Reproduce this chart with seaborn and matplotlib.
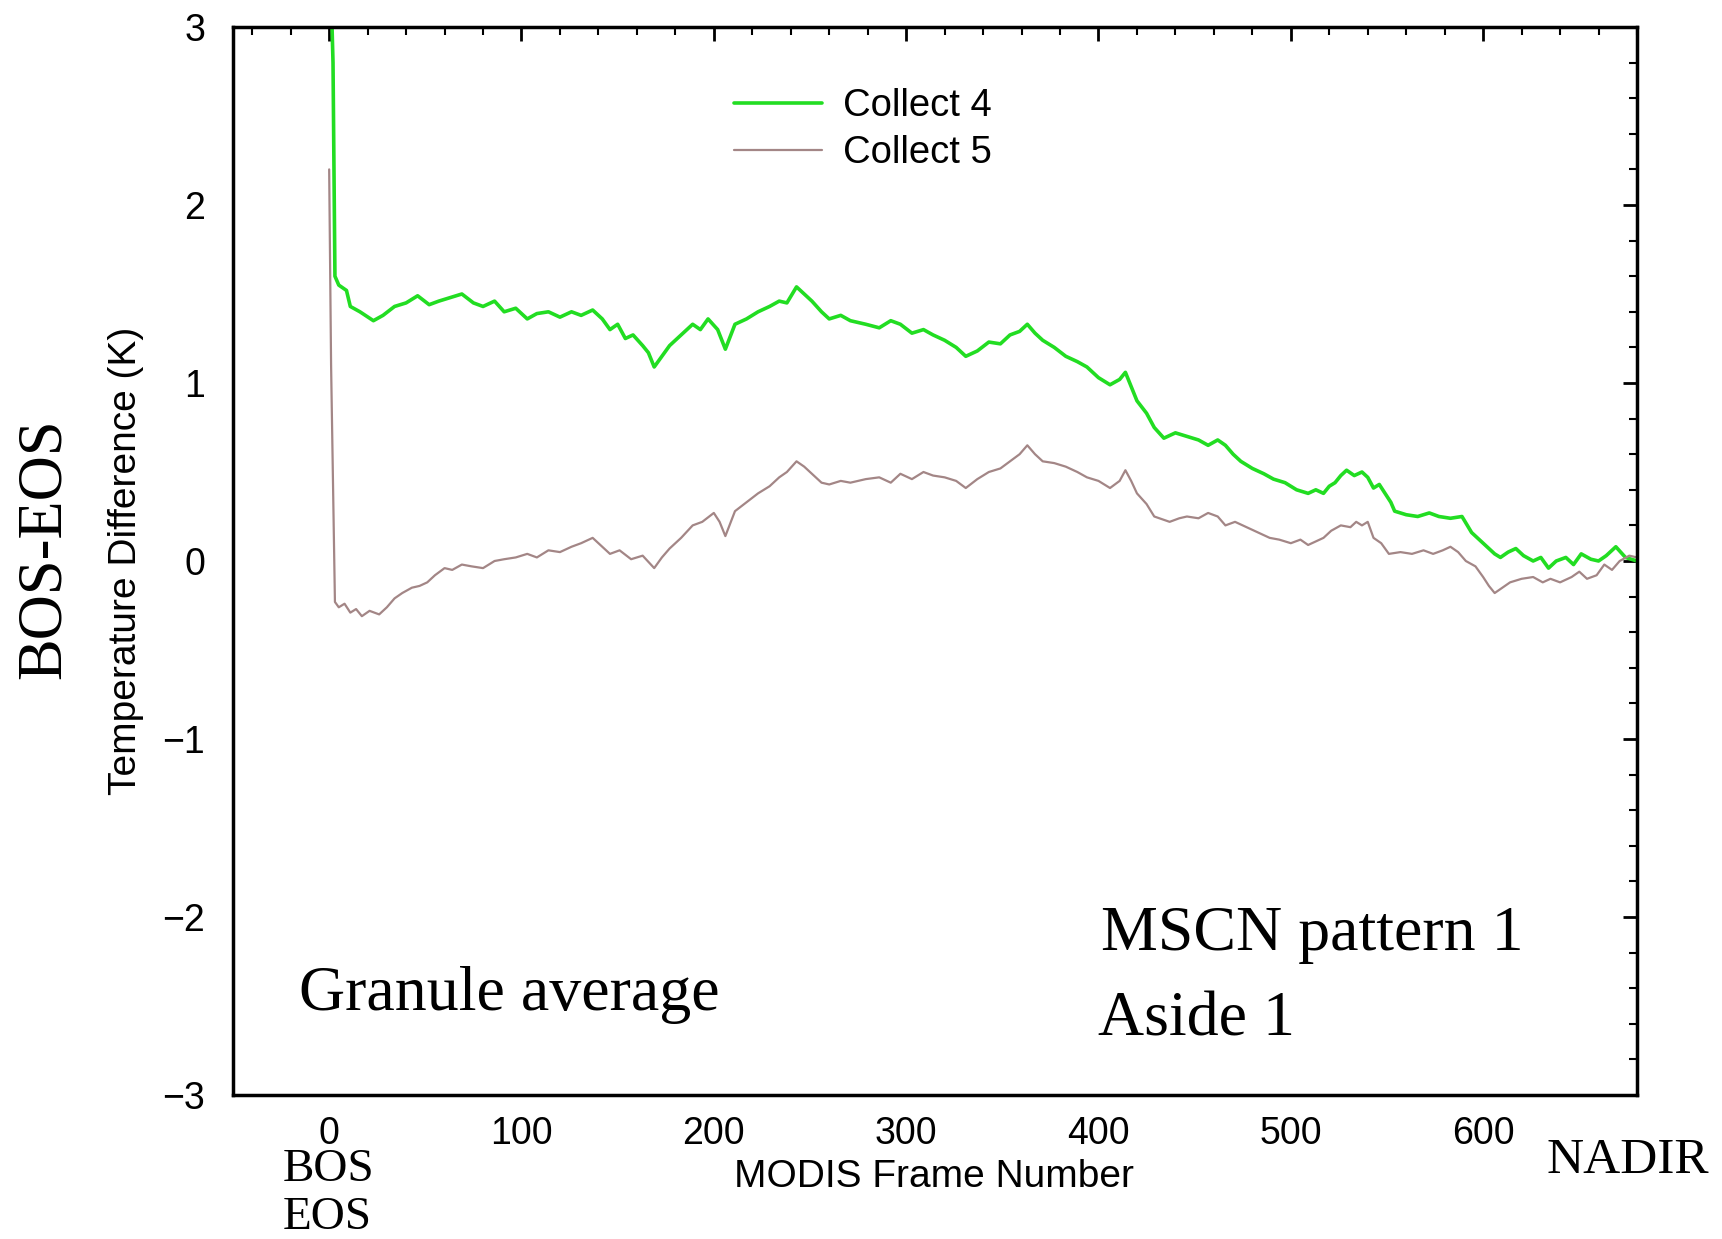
import numpy as np
import pandas as pd
import matplotlib
matplotlib.use("Agg")
import matplotlib.pyplot as plt
import seaborn as sns
from matplotlib.ticker import MultipleLocator

# ---------------- data ----------------
frames_c4 = [0, 2, 3, 5, 9, 11, 16, 23, 28, 34, 40, 46, 52, 57, 63, 69, 75, 80, 86, 91,
             97, 103, 108, 114, 120, 126, 131, 137, 142, 146, 150, 154, 158, 163, 166, 169,
             173, 177, 183, 189, 193, 197, 202, 206, 211, 217, 223, 229, 234, 238, 243,
             247, 251, 256, 260, 266, 271, 279, 286, 292, 297, 303, 309, 314, 320, 326,
             331, 337, 343, 349, 354, 359, 363, 367, 371, 377, 383, 389, 394, 400, 406,
             411, 414, 417, 420, 425, 429, 434, 440, 446, 452, 457, 462, 466, 470, 474,
             480, 486, 491, 497, 503, 509, 513, 517, 520, 523, 526, 529, 533, 537, 540,
             543, 546, 549, 552, 554, 560, 566, 572, 577, 583, 589, 594, 598, 603, 606,
             609, 613, 617, 621, 626, 630, 634, 638, 643, 647, 651, 656, 660, 664, 669,
             674, 680]
collect4 = [3.60, 2.80, 1.60, 1.55, 1.52, 1.43, 1.40, 1.35, 1.38, 1.43, 1.45, 1.49, 1.44,
            1.46, 1.48, 1.50, 1.45, 1.43, 1.46, 1.40, 1.42, 1.36, 1.39, 1.40, 1.37, 1.40,
            1.38, 1.41, 1.36, 1.30, 1.33, 1.25, 1.27, 1.21, 1.17, 1.09, 1.15, 1.21, 1.27,
            1.33, 1.30, 1.36, 1.30, 1.19, 1.33, 1.36, 1.40, 1.43, 1.46, 1.45, 1.54, 1.50,
            1.46, 1.40, 1.36, 1.38, 1.35, 1.33, 1.31, 1.35, 1.33, 1.28, 1.30, 1.27, 1.24,
            1.20, 1.15, 1.18, 1.23, 1.22, 1.27, 1.29, 1.33, 1.28, 1.24, 1.20, 1.15, 1.12,
            1.09, 1.03, 0.99, 1.02, 1.06, 0.98, 0.90, 0.83, 0.75, 0.69, 0.72, 0.70, 0.68,
            0.65, 0.68, 0.65, 0.60, 0.56, 0.52, 0.49, 0.46, 0.44, 0.40, 0.38, 0.40, 0.38,
            0.42, 0.44, 0.48, 0.51, 0.48, 0.50, 0.47, 0.41, 0.43, 0.38, 0.33, 0.28, 0.26,
            0.25, 0.27, 0.25, 0.24, 0.25, 0.16, 0.12, 0.07, 0.04, 0.02, 0.05, 0.07, 0.03,
            0.00, 0.02, -0.04, 0.00, 0.02, -0.02, 0.04, 0.01, 0.00, 0.03, 0.08, 0.02, 0.00]

frames_c5 = [0, 1, 3, 5, 8, 11, 14, 17, 21, 26, 30, 34, 38, 43, 47, 51, 55, 60, 64, 69, 74,
             80, 86, 91, 97, 103, 108, 114, 120, 126, 131, 137, 142, 146, 151, 157, 163,
             169, 173, 177, 183, 189, 194, 200, 203, 206, 211, 217, 223, 229, 234, 238,
             243, 247, 251, 256, 260, 266, 271, 279, 286, 292, 297, 303, 309, 314, 320,
             326, 331, 337, 343, 349, 354, 359, 363, 367, 371, 377, 383, 389, 394, 400,
             406, 411, 414, 417, 420, 425, 429, 437, 442, 446, 452, 457, 462, 466, 471,
             477, 483, 489, 494, 500, 505, 509, 513, 517, 521, 526, 531, 534, 537, 540,
             543, 547, 551, 557, 563, 569, 574, 579, 583, 587, 591, 596, 600, 603, 606,
             610, 614, 620, 626, 631, 635, 640, 646, 650, 654, 659, 663, 667, 671, 676, 680]
collect5 = [2.20, 1.10, -0.23, -0.26, -0.24, -0.29, -0.27, -0.31, -0.28, -0.30, -0.26,
            -0.21, -0.18, -0.15, -0.14, -0.12, -0.08, -0.04, -0.05, -0.02, -0.03, -0.04,
            0.00, 0.01, 0.02, 0.04, 0.02, 0.06, 0.05, 0.08, 0.10, 0.13, 0.08, 0.04, 0.06,
            0.01, 0.03, -0.04, 0.02, 0.07, 0.13, 0.20, 0.22, 0.27, 0.22, 0.14, 0.28, 0.33,
            0.38, 0.42, 0.47, 0.50, 0.56, 0.53, 0.49, 0.44, 0.43, 0.45, 0.44, 0.46, 0.47,
            0.44, 0.49, 0.46, 0.50, 0.48, 0.47, 0.45, 0.41, 0.46, 0.50, 0.52, 0.56, 0.60,
            0.65, 0.60, 0.56, 0.55, 0.53, 0.50, 0.47, 0.45, 0.41, 0.45, 0.51, 0.45, 0.38,
            0.32, 0.25, 0.22, 0.24, 0.25, 0.24, 0.27, 0.25, 0.20, 0.22, 0.19, 0.16, 0.13,
            0.12, 0.10, 0.12, 0.09, 0.11, 0.13, 0.17, 0.20, 0.19, 0.22, 0.20, 0.22, 0.13,
            0.10, 0.04, 0.05, 0.04, 0.06, 0.04, 0.06, 0.08, 0.05, 0.00, -0.03, -0.09,
            -0.14, -0.18, -0.15, -0.12, -0.10, -0.09, -0.12, -0.10, -0.12, -0.09, -0.06,
            -0.10, -0.08, -0.02, -0.05, 0.00, 0.03, 0.02]

series_names = ["Collect 4", "Collect 5"]
x_ticks = [0, 100, 200, 300, 400, 500, 600]
y_ticks = [-3, -2, -1, 0, 1, 2, 3]

df = pd.concat([
    pd.DataFrame({"frame": frames_c4, "diff": collect4, "series": series_names[0]}),
    pd.DataFrame({"frame": frames_c5, "diff": collect5, "series": series_names[1]}),
], ignore_index=True)

# ---------------- style ----------------
sns.set_style("white")
plt.rcParams["font.family"] = ["Liberation Sans", "DejaVu Sans"]
plt.rcParams["text.color"] = "black"
plt.rcParams["axes.labelcolor"] = "black"
plt.rcParams["xtick.color"] = "black"
plt.rcParams["ytick.color"] = "black"

W, H = 1722, 1239
fig = plt.figure(figsize=(W / 100, H / 100), dpi=100)
ax = fig.add_axes([233 / W, 1 - 1095 / H, (1637 - 233) / W, (1095 - 27) / H])

palette = {"Collect 4": "#22dd22", "Collect 5": "#a38686"}
sns.lineplot(data=df, x="frame", y="diff", hue="series", palette=palette,
             estimator=None, sort=False, ax=ax, legend=True)
for line, lw in zip(ax.get_lines(), [2.6, 1.6]):
    line.set_linewidth(lw)

ax.set_xlim(-50, 680)
ax.set_ylim(-3, 3)
ax.set_xticks(x_ticks)
ax.set_yticks(y_ticks)
ax.xaxis.set_minor_locator(MultipleLocator(20))
ax.yaxis.set_minor_locator(MultipleLocator(0.2))
ax.tick_params(which="both", direction="in", top=True, right=True, colors="black")
ax.tick_params(which="major", length=10, width=2)
ax.tick_params(which="minor", length=6, width=1.5)
ax.tick_params(axis="x", which="major", labelsize=27, pad=15)
ax.tick_params(axis="y", which="major", labelsize=27, pad=20)
for sp in ax.spines.values():
    sp.set_linewidth(2.5)
    sp.set_color("black")

ax.set_xlabel("MODIS Frame Number", fontsize=28)
ax.xaxis.set_label_coords(0.4993, -0.0765)
ax.xaxis.label.set_va("center")
ax.set_ylabel("Temperature Difference (K)", fontsize=28)
ax.yaxis.set_label_coords(-0.076, 0.5)
ax.yaxis.label.set_va("center")

handles, labels = ax.get_legend_handles_labels()
for h, lw in zip(handles, [2.6, 1.6]):
    h.set_linewidth(lw)
leg = ax.legend(handles, labels, loc="upper left", bbox_to_anchor=(0.357, 0.943),
                frameon=False, fontsize=27.5, handlelength=2.3, handletextpad=0.55,
                labelspacing=0.29, borderpad=0, borderaxespad=0)

serif = ["Liberation Serif", "DejaVu Serif"]
fig.text(45 / W, 1 - 549 / H, "BOS-EOS", rotation=90, ha="center", va="center",
         fontsize=45, family=serif)
fig.text(299 / W, 1 - 1010 / H, "Granule average", ha="left", va="baseline",
         fontsize=46, family=serif)
fig.text(1101 / W, 1 - 950 / H, "MSCN pattern 1", ha="left", va="baseline",
         fontsize=46, family=serif)
fig.text(1098 / W, 1 - 1035 / H, "Aside 1", ha="left", va="baseline",
         fontsize=46, family=serif)
fig.text(283 / W, 1 - 1181 / H, "BOS", ha="left", va="baseline",
         fontsize=34, family=serif)
fig.text(283 / W, 1 - 1229 / H, "EOS", ha="left", va="baseline",
         fontsize=34, family=serif)
fig.text(1546 / W, 1 - 1173 / H, "NADIR", ha="left", va="baseline",
         fontsize=37, family=serif)

fig.savefig("out.png", dpi=100, facecolor="white")
